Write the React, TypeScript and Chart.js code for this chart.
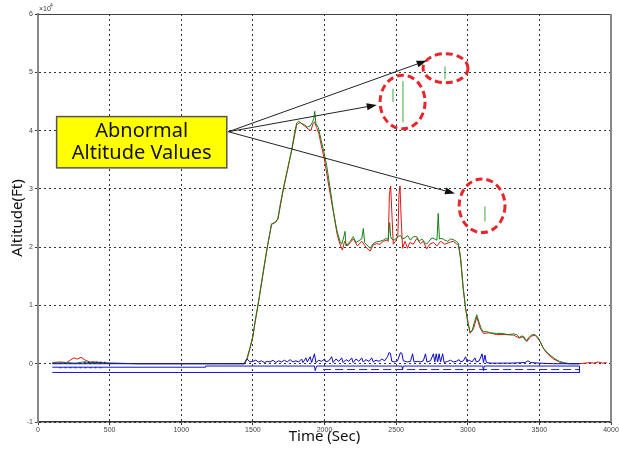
import React, { useEffect, useRef } from "react";
import { Chart, registerables } from "chart.js";

Chart.register(...registerables);

// ---------- data (altitude in units of 10^4 ft, time in seconds) ----------
const xTickValues = [0, 500, 1000, 1500, 2000, 2500, 3000, 3500, 4000];
const yTickValues = [-1, 0, 1, 2, 3, 4, 5, 6];

const greenTime = [
  100, 200, 260, 320, 380, 440, 500, 700, 1000, 1300,
  1440, 1460, 1480, 1500, 1515, 1540, 1570, 1600, 1630, 1645,
  1660, 1675, 1690, 1712, 1740, 1771, 1790, 1806, 1820, 1840,
  1860, 1880, 1900, 1915, 1925, 1932, 1940, 1957, 1975, 1995,
  2015, 2040, 2062, 2085, 2108, 2120, 2135, 2143, 2150, 2165,
  2180, 2201, 2220, 2240, 2260, 2271, 2280, 2295, 2318, 2340,
  2360, 2387, 2410, 2430, 2445, 2455, 2462, 2470, 2485, 2500,
  2515, 2530, 2545, 2562, 2580, 2600, 2620, 2644, 2660, 2680,
  2700, 2713, 2730, 2750, 2770, 2785, 2794, 2802, 2820, 2840,
  2860, 2880, 2899, 2920, 2934, 2945, 2958, 2970, 2985, 3000,
  3016, 3030, 3045, 3063, 3080, 3095, 3109, 3130, 3160, 3200,
  3240, 3280, 3320, 3342, 3360, 3380, 3400, 3412, 3430, 3450,
  3470, 3490, 3510, 3528, 3550, 3580, 3610, 3640, 3667, 3700,
  3780,
];
const greenAlt = [
  0.01, 0.02, 0.01, 0.03, 0.02, 0.02, 0.01, 0, 0, 0,
  0, 0.1, 0.28, 0.48, 0.72, 1.08, 1.55, 2.0, 2.38, 2.42,
  2.43, 2.5, 2.72, 3.0, 3.32, 3.67, 3.95, 4.13, 4.16, 4.12,
  4.1, 4.06, 4.08, 4.14, 4.2, 4.33, 4.12, 4.05, 3.85, 3.64,
  3.4, 3.0, 2.62, 2.3, 2.1, 2.05, 2.18, 2.27, 2.02, 2.06,
  2.1, 2.18, 2.08, 2.11, 2.14, 2.32, 2.08, 2.04, 1.98, 2.06,
  2.09, 2.1, 2.12, 2.15, 2.13, 2.42, 2.18, 2.14, 2.12, 2.15,
  2.18, 2.2, 2.14, 2.16, 2.2, 2.12, 2.18, 2.18, 2.1, 2.14,
  2.08, 2.05, 2.1, 2.16, 2.14, 2.12, 2.58, 2.14, 2.15, 2.12,
  2.1, 2.14, 2.13, 2.1, 2.07, 1.9, 1.6, 1.27, 0.95, 0.7,
  0.55, 0.56, 0.7, 0.84, 0.7, 0.6, 0.55, 0.55, 0.53, 0.52,
  0.52, 0.5, 0.51, 0.5, 0.45, 0.48, 0.41, 0.4, 0.46, 0.5,
  0.5, 0.45, 0.36, 0.27, 0.2, 0.14, 0.08, 0.04, 0.02, 0.0,
  0,
];

const redTime = [
  100, 150, 200, 225, 250, 275, 300, 330, 360, 400,
  450, 500, 700, 1000, 1300, 1440, 1460, 1480, 1500, 1515,
  1540, 1570, 1600, 1630, 1650, 1675, 1712, 1740, 1771, 1806,
  1830, 1860, 1890, 1905, 1920, 1930, 1945, 1960, 1980, 2000,
  2030, 2062, 2090, 2108, 2125, 2140, 2160, 2180, 2201, 2230,
  2260, 2290, 2318, 2340, 2365, 2387, 2410, 2435, 2445, 2453,
  2462, 2470, 2480, 2500, 2512, 2520, 2527, 2535, 2545, 2562,
  2580, 2595, 2620, 2644, 2670, 2690, 2713, 2735, 2760, 2785,
  2810, 2840, 2870, 2899, 2920, 2934, 2950, 2965, 2985, 3016,
  3040, 3063, 3085, 3109, 3150, 3200, 3260, 3320, 3360, 3390,
  3412, 3440, 3470, 3500, 3528, 3560, 3600, 3640, 3680, 3720,
  3780, 3820, 3850, 3880, 3910, 3940, 3970,
];
const redAlt = [
  0.02, 0.03, 0.02, 0.06, 0.1, 0.08, 0.11, 0.06, 0.03, 0.03,
  0.02, 0.01, 0, 0, 0, 0, 0.08, 0.26, 0.46, 0.7,
  1.06, 1.52, 1.98, 2.4, 2.41, 2.48, 2.98, 3.3, 3.66, 4.1,
  4.14, 4.08, 4.02, 4.0, 4.12, 4.15, 4.05, 3.95, 3.72, 3.5,
  3.05, 2.6, 2.2, 2.05, 1.95, 2.1, 2.02, 2.08, 2.14, 2.02,
  2.1, 2.0, 1.93, 2.04, 2.06, 2.05, 2.1, 2.12, 2.1, 2.9,
  3.05, 2.6, 2.05, 2.12, 2.2, 2.9, 3.05, 2.5, 1.98, 2.1,
  1.98, 2.08, 2.05, 2.15, 2.06, 2.1, 1.97, 2.05, 2.08, 2.02,
  2.1, 2.05, 2.08, 2.1, 2.06, 2.04, 1.82, 1.35, 0.95, 0.52,
  0.6, 0.8, 0.62, 0.52, 0.53, 0.5, 0.5, 0.49, 0.44, 0.47,
  0.38, 0.47, 0.49, 0.4, 0.26, 0.16, 0.08, 0.03, 0.01, 0,
  0, 0.01, 0.02, 0.01, 0.03, 0.01, 0.02,
];

const blueTime = [
  100, 1440, 1460, 1480, 1500, 1520, 1540, 1560, 1580, 1600,
  1620, 1640, 1660, 1680, 1700, 1720, 1740, 1760, 1780, 1800,
  1820, 1840, 1850, 1870, 1880, 1900, 1910, 1930, 1940, 1960,
  1980, 2000, 2010, 2030, 2050, 2060, 2080, 2100, 2120, 2130,
  2150, 2170, 2190, 2200, 2220, 2240, 2260, 2270, 2290, 2310,
  2330, 2340, 2360, 2380, 2400, 2420, 2440, 2450, 2460, 2470,
  2490, 2510, 2530, 2540, 2550, 2580, 2600, 2615, 2625, 2650,
  2670, 2690, 2705, 2715, 2740, 2760, 2770, 2780, 2790, 2800,
  2810, 2825, 2835, 2860, 2880, 2900, 2920, 2940, 2950, 2970,
  2985, 2995, 3010, 3030, 3050, 3060, 3080, 3100, 3110, 3120,
  3130, 3160, 3200, 3300, 3400, 3420, 3440, 3500, 3600, 3780,
];
const blueAlt = [
  0, 0, 0.08, 0.03, 0.04, 0.06, 0.03, 0.05, 0.02, 0.04,
  0.03, 0.06, 0.02, 0.05, 0.03, 0.06, 0.03, 0.07, 0.03, 0.05,
  0.03, 0.08, 0.02, 0.1, 0.03, 0.12, 0.02, 0.17, 0.02, 0.06,
  0.04, 0.08, 0.03, 0.05, 0.12, 0.02, 0.08, 0.04, 0.1, 0.02,
  0.07, 0.04, 0.1, 0.02, 0.08, 0.04, 0.1, 0.03, 0.07, 0.04,
  0.1, 0.03, 0.06, 0.04, 0.08, 0.05, 0.12, 0.19, 0.18, 0.04,
  0.03, 0.05, 0.19, 0.18, 0.05, 0.03, 0.04, 0.17, 0.03, 0.04,
  0.03, 0.05, 0.17, 0.03, 0.05, 0.17, 0.03, 0.17, 0.03, 0.17,
  0.03, 0.17, 0.02, 0.04, 0.06, 0.03, 0.04, 0.07, 0.03, 0.05,
  0.12, 0.03, 0.06, 0.03, 0.1, 0.03, 0.05, 0.17, 0.02, 0.15,
  0.02, 0.01, 0.01, 0.01, 0.02, 0.05, 0.02, 0.01, 0, 0,
];

const blueBaseTime = [100, 1170, 1170, 1930, 1935, 1945, 2540, 2545, 2550, 3105, 3110, 3115, 3780, 3780, 100];
const blueBaseAlt = [-0.06, -0.06, -0.04, -0.04, -0.12, -0.04, -0.04, -0.1, -0.04, -0.04, -0.12, -0.04, -0.04, -0.15, -0.15];
const blueDashTime = [1990, 3780];
const blueDashAlt = [-0.1, -0.1];
const blueDotTime = [150, 450];
const blueDotAlt = [-0.07, -0.07];
const blackDotTime = [320, 470];
const blackDotAlt = [0.025, 0.025];

// abnormal altitude spikes (isolated samples, null = gap)
const spikeTime = [2478, 2478, 2478, 2548, 2548, 2548, 2841, 2841, 2841, 3120, 3120];
const spikeAlt = [4.49, 4.72, null, 4.14, 4.85, null, 4.88, 5.1, null, 2.44, 2.7];

// annotation geometry in data coordinates
const boxTime = [130, 1318];
const boxAlt = [4.24, 3.36];
const boxLines = ["Abnormal", "Altitude Values"];
const arrowFrom = [1329, 3.98];
const arrowTo = [
  [2713, 5.2],
  [2365, 4.44],
  [2911, 2.92],
];
const ellipses = [
  [2845, 5.07, 157, 0.25],
  [2545, 4.49, 157, 0.46],
  [3100, 2.71, 160, 0.46],
];

const zip = (t: number[], v: (number | null)[]) => t.map((x, i) => ({ x, y: v[i] }));

const annotPlugin = {
  id: "annot",
  afterDraw(chart: any) {
    const { ctx, chartArea, scales } = chart;
    const xs = scales.x;
    const ys = scales.y;
    const px = (t: number) => xs.getPixelForValue(t);
    const py = (v: number) => ys.getPixelForValue(v);
    ctx.save();

    // frame top / right
    ctx.setLineDash([]);
    ctx.strokeStyle = "#444";
    ctx.lineWidth = 1;
    ctx.beginPath();
    ctx.moveTo(chartArea.left, chartArea.top + 0.5);
    ctx.lineTo(chartArea.right, chartArea.top + 0.5);
    ctx.stroke();
    ctx.strokeStyle = "#888";
    ctx.lineWidth = 2;
    ctx.beginPath();
    ctx.moveTo(chartArea.right, chartArea.top);
    ctx.lineTo(chartArea.right, chartArea.bottom);
    ctx.stroke();

    // exponent label
    ctx.fillStyle = "#333";
    ctx.textBaseline = "alphabetic";
    ctx.textAlign = "left";
    ctx.font = '7px "Liberation Sans"';
    ctx.fillText("\u00d710", chartArea.left + 1, chartArea.top - 3);
    ctx.font = '5px "Liberation Sans"';
    ctx.fillText("4", chartArea.left + 12, chartArea.top - 7);

    // ellipses
    ctx.strokeStyle = "#e8262a";
    ctx.lineWidth = 3;
    ctx.setLineDash([7, 4]);
    ellipses.forEach(([t, v, rt, rv]) => {
      const cx = px(t);
      const cy = py(v);
      const rx = px(t + rt) - cx;
      const ry = cy - py(v + rv);
      ctx.beginPath();
      ctx.ellipse(cx, cy, rx, ry, 0, 0, Math.PI * 2);
      ctx.stroke();
    });
    ctx.setLineDash([]);

    // arrows
    const ox = px(arrowFrom[0]);
    const oy = py(arrowFrom[1]);
    ctx.strokeStyle = "#222";
    ctx.fillStyle = "#111";
    ctx.lineWidth = 1;
    arrowTo.forEach(([t, v]) => {
      const ex = px(t);
      const ey = py(v);
      const ang = Math.atan2(ey - oy, ex - ox);
      const len = 10;
      const hw = 3.5;
      const bx = ex - Math.cos(ang) * len;
      const by = ey - Math.sin(ang) * len;
      ctx.beginPath();
      ctx.moveTo(ox, oy);
      ctx.lineTo(bx, by);
      ctx.stroke();
      ctx.beginPath();
      ctx.moveTo(ex, ey);
      ctx.lineTo(bx - Math.sin(ang) * hw, by + Math.cos(ang) * hw);
      ctx.lineTo(bx + Math.sin(ang) * hw, by - Math.cos(ang) * hw);
      ctx.closePath();
      ctx.fill();
    });

    // yellow box
    const bx1 = px(boxTime[0]);
    const bx2 = px(boxTime[1]);
    const by1 = py(boxAlt[0]);
    const by2 = py(boxAlt[1]);
    ctx.fillStyle = "#ffff00";
    ctx.fillRect(bx1, by1, bx2 - bx1, by2 - by1);
    ctx.strokeStyle = "#555";
    ctx.lineWidth = 1.5;
    ctx.strokeRect(bx1, by1, bx2 - bx1, by2 - by1);
    ctx.fillStyle = "#111";
    ctx.font = '20px "Noto Sans"';
    ctx.textAlign = "center";
    ctx.textBaseline = "middle";
    const cx = (bx1 + bx2) / 2;
    const h = by2 - by1;
    ctx.fillText(boxLines[0], cx, by1 + h * 0.29);
    ctx.fillText(boxLines[1], cx, by1 + h * 0.71);

    ctx.restore();
  },
};

export default function App() {
  const ref = useRef<HTMLCanvasElement>(null);

  useEffect(() => {
    if (!ref.current) return;
    const line = (data: any[], color: string, extra: any = {}) => ({
      data,
      borderColor: color,
      backgroundColor: color,
      borderWidth: 1,
      pointRadius: 0,
      tension: 0,
      spanGaps: false,
      fill: false,
      ...extra,
    });
    const chart = new Chart(ref.current, {
      type: "line",
      data: {
        datasets: [
          line(zip(blueTime, blueAlt), "rgb(10,10,200)"),
          line(zip(blueBaseTime, blueBaseAlt), "rgb(20,20,200)"),
          line(zip(blueDashTime, blueDashAlt), "rgb(40,40,210)", { borderDash: [8, 4] }),
          line(zip(blueDotTime, blueDotAlt), "rgb(40,40,210)", { borderDash: [2, 3] }),
          line(zip(spikeTime, spikeAlt), "rgb(60,170,60)"),
          line(zip(blackDotTime, blackDotAlt), "#222", { borderDash: [2, 2] }),
          line(zip(greenTime, greenAlt), "rgb(20,130,20)"),
          line(zip(redTime, redAlt), "rgb(225,20,20)"),
        ] as any,
      },
      options: {
        responsive: false,
        animation: false,
        parsing: true,
        layout: { padding: { top: 14, right: 8, left: 0, bottom: 0 } },
        plugins: {
          legend: { display: false },
          tooltip: { enabled: false },
        },
        scales: {
          x: {
            type: "linear",
            min: 0,
            max: 4000,
            afterBuildTicks: (s: any) => {
              s.ticks = xTickValues.map((v) => ({ value: v }));
            },
            afterFit: (s: any) => {
              s.height = 29;
              s.paddingLeft = 0;
              s.paddingRight = 0;
            },
            ticks: {
              font: { size: 7, family: "Liberation Sans" },
              color: "#444",
              padding: 1,
              maxRotation: 0,
              autoSkip: false,
              callback: (v: any) => String(v),
            },
            grid: { color: "#333", lineWidth: 1, tickLength: 3, tickColor: "#333" },
            border: { display: true, color: "#333", width: 1.5, dash: [2, 3] },
            title: {
              display: true,
              text: "Time (Sec)",
              font: { size: 15, family: "Noto Sans" },
              color: "#111",
              padding: { top: 0, bottom: 5 },
            },
          },
          y: {
            type: "linear",
            min: -1,
            max: 6,
            afterBuildTicks: (s: any) => {
              s.ticks = yTickValues.map((v) => ({ value: v }));
            },
            afterFit: (s: any) => {
              s.width = 38;
              s.paddingTop = 0;
              s.paddingBottom = 0;
            },
            ticks: {
              font: { size: 7, family: "Liberation Sans" },
              color: "#444",
              padding: 2,
              autoSkip: false,
              callback: (v: any) => String(v),
            },
            grid: { color: "#333", lineWidth: 1, tickLength: 3, tickColor: "#333" },
            border: { display: true, color: "#888", width: 2, dash: [2, 3] },
            title: {
              display: true,
              text: "Altitude(Ft)",
              font: { size: 15, family: "Noto Sans" },
              color: "#111",
              padding: { top: 9, bottom: 0 },
            },
          },
        },
      } as any,
      plugins: [annotPlugin],
    });
    return () => chart.destroy();
  }, []);

  return (
    <div style={{ position: "absolute", left: 0, top: 0, width: 619, height: 451, background: "#fff" }}>
      <canvas ref={ref} width={619} height={451} style={{ display: "block" }} />
    </div>
  );
}
